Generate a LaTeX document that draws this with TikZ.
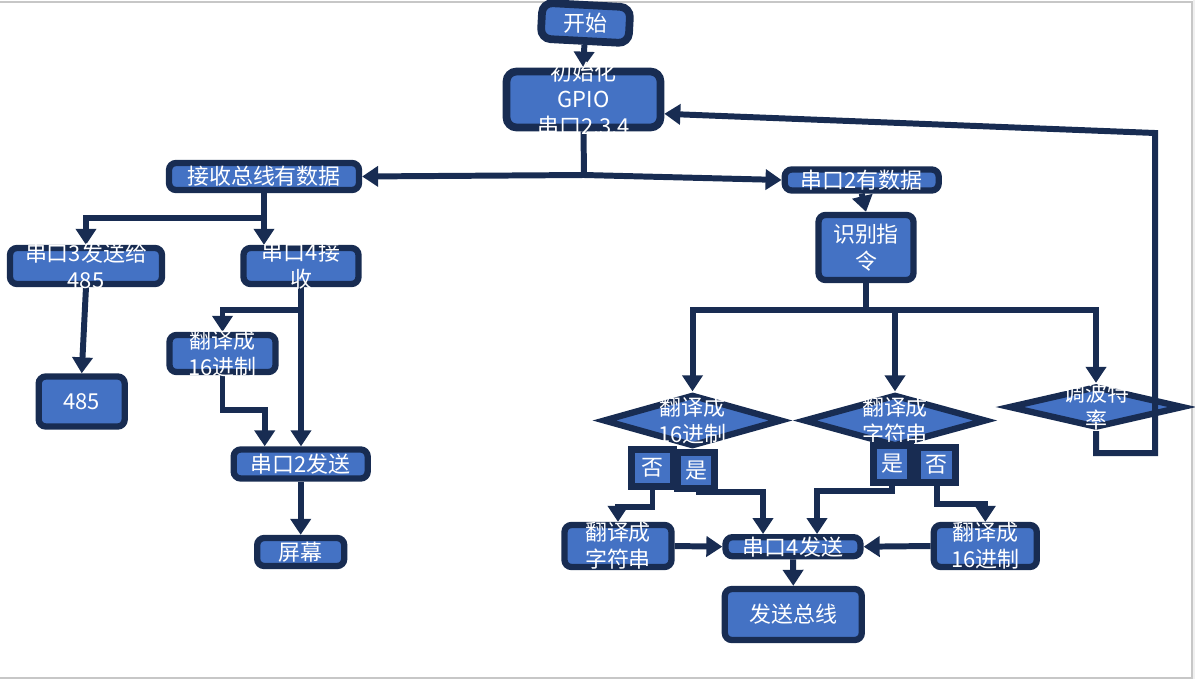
\documentclass[tikz,border=0pt]{standalone}
\usepackage{fontspec}
\newfontfamily\cjk{Noto Sans CJK SC}
\usetikzlibrary{shapes.geometric,arrows.meta,backgrounds}
\definecolor{flowNavy}{RGB}{24,44,82}
\definecolor{flowBlue}{RGB}{68,114,196}

\begin{document}
\begin{tikzpicture}[x=0.02cm,y=-0.02cm,
  box/.style={rectangle,draw=flowNavy,fill=flowBlue,line width=3.6pt,rounded corners=0.14cm,inner sep=0pt},
  flag/.style={rectangle,draw=flowNavy,fill=flowBlue,line width=3.6pt,inner sep=0pt},
  test/.style={diamond,draw=flowNavy,fill=flowBlue,line width=3.6pt,inner sep=0pt},
  txt/.style={text=white,align=center,inner sep=0pt,font=\cjk\fontsize{12.5}{15.4}\selectfont},
  conn/.style={draw=flowNavy,line width=3.4pt,-{Triangle[length=0.32cm,width=0.4cm]}},
  wire/.style={draw=flowNavy,line width=3.4pt}]
\useasboundingbox (0,0) rectangle (1195,679);
% frame of the page
\fill[black!6] (1193,0) rectangle (1195,679);
\draw[black!22,line width=0.6pt] (0,2) -- (1192,2) -- (1192,678) -- (0,678);

% start and init
\node[box,line width=4.4pt,rounded corners=0.2cm,rotate=-3,minimum width=1.76cm,minimum height=0.72cm,label={[txt]center:开始}] (start) at (585.5,23) {};
\node[box,line width=4.4pt,rounded corners=0.2cm,minimum width=3.08cm,minimum height=1.12cm,label={[txt]center:初始化\\GPIO\\串口2.3.4}] (init) at (583.5,99.5) {};

% left branch
\node[box,minimum width=3.8cm,minimum height=0.54cm,label={[txt]center:接收总线有数据}] (recv) at (264,176.5) {};
\node[box,minimum width=3.04cm,minimum height=0.72cm,label={[txt]center:串口3发送给\\485}] (s3send) at (86,266) {};
\node[box,minimum width=2.3cm,minimum height=0.72cm,label={[txt]center:串口4接\\收}] (s4recv) at (301,266) {};
\node[box,minimum width=1.72cm,minimum height=1.0cm,label={[txt]center:485}] (b485) at (81.7,401.5) {};
\node[box,minimum width=2.12cm,minimum height=0.74cm,label={[txt]center:翻译成\\16进制}] (hexL) at (222.5,353.5) {};
\node[box,minimum width=2.68cm,minimum height=0.58cm,label={[txt]center:串口2发送}] (s2send) at (300.7,464) {};
\node[box,minimum width=1.74cm,minimum height=0.56cm,label={[txt]center:屏幕}] (screen) at (300.7,552) {};

% right branch
\node[box,minimum width=3.08cm,minimum height=0.42cm,label={[txt]center:串口2有数据}] (s2data) at (861.7,180) {};
\node[box,minimum width=1.9cm,minimum height=1.3cm,label={[txt]center:识别指\\令}] (cmd) at (866,247.5) {};
\node[test,minimum width=3.58cm,minimum height=1.04cm,label={[txt]center:翻译成\\16进制}] (hexR) at (692.5,420.5) {};
\node[test,minimum width=3.66cm,minimum height=1.04cm,label={[txt]center:翻译成\\字符串}] (strR) at (895,420.5) {};
\node[test,minimum width=3.5cm,minimum height=0.84cm,label={[txt]center:调波特\\率}] (baud) at (1096,407) {};
\node[flag,minimum width=0.84cm,minimum height=0.74cm,label={[txt]center:否}] (no1) at (652.5,468) {};
\node[flag,minimum width=0.74cm,minimum height=0.72cm,label={[txt]center:是}] (yes1) at (696,470.5) {};
\node[flag,minimum width=0.74cm,minimum height=0.74cm,label={[txt]center:是}] (yes2) at (892,464) {};
\node[flag,minimum width=0.76cm,minimum height=0.7cm,label={[txt]center:否}] (no2) at (936.5,465) {};
\node[box,minimum width=2.14cm,minimum height=0.84cm,label={[txt]center:翻译成\\字符串}] (strL) at (618,546) {};
\node[box,minimum width=2.7cm,minimum height=0.38cm,label={[txt]center:串口4发送}] (s4send) at (793,546.7) {};
\node[box,minimum width=2.06cm,minimum height=0.84cm,label={[txt]center:翻译成\\16进制}] (hexB) at (985.3,546) {};
\node[box,minimum width=2.74cm,minimum height=1.02cm,label={[txt]center:发送总线}] (bus) at (793.3,614.5) {};

% connectors
\begin{scope}[on background layer]
\coordinate (split1) at (584,175);
\coordinate (fork1) at (264,218);
\coordinate (fork2) at (301,310);
\coordinate (fork3) at (866,310);
\draw[conn] (start.south) -- (init.north);
\draw[wire] (init.south) -- (split1);
\draw[conn] (split1) -- (recv.east);
\draw[conn] (split1) -- (s2data.west);
\draw[conn] (recv.south) -- (recv.south |- s4recv.north);
\draw[conn] (fork1) -| (s3send.north);
\draw[conn] (s3send.south) -- (b485.north);
\draw[conn] (s4recv.south) -- (s4recv.south |- s2send.north);
\draw[conn] (fork2) -| (hexL.north);
\draw[conn] (hexL.south) -- ++(0,35) -| ([xshift=-0.72cm]s2send.north);
\draw[conn] (s2send.south) -- (screen.north);
\draw[conn] (s2data.south) -- (cmd.north);
\draw[wire] (cmd.south) -- (fork3);
\draw[conn] (fork3) -| (hexR.north);
\draw[conn] (fork3) -| (baud.north);
\draw[conn] (fork3 -| strR.north) -- (strR.north);
\draw[conn] (no1.south) -- ++(0,17) -| (strL.north);
\draw[conn] (yes1.south) -| ([xshift=-0.6cm]s4send.north);
\draw[conn] (yes2.south) -- ++(0,5) -| ([xshift=0.48cm]s4send.north);
\draw[conn] (no2.south) -- ++(0,18) -| (hexB.north);
\draw[conn] (strL.east) -- (s4send.west);
\draw[conn] (hexB.west) -- (s4send.east);
\draw[conn] (s4send.south) -- (bus.north);
\end{scope}
% loop back, drawn over the diamond
\coordinate (loopTop) at (1155,133);
\draw[conn] (baud.south) -- ++(0,22) -| (loopTop) -- (init.-10);
\end{tikzpicture}
\end{document}
